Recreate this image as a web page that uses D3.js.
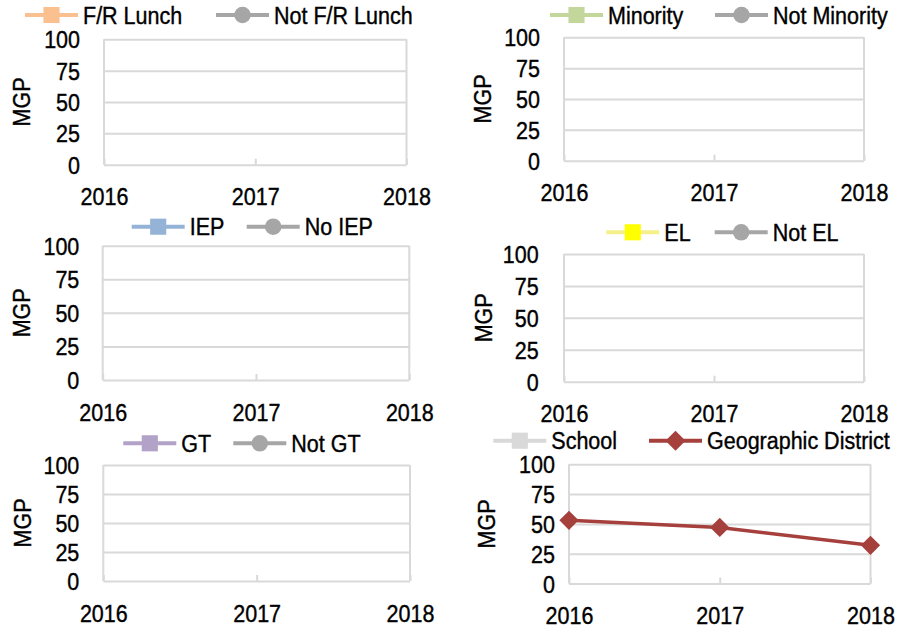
<!DOCTYPE html>
<html>
<head>
<meta charset="utf-8">
<script src="https://cdn.jsdelivr.net/npm/d3@7"></script>
<style>
  body { margin: 0; background: #fff; }
  svg text { font-family: "Liberation Sans", Arial, sans-serif; font-size: 21.5px; fill: #000; stroke: #000; stroke-width: 0.35px; }
</style>
</head>
<body>
<svg id="chart" width="908" height="632"></svg>
<script>
// categories and ticks
const years = ["2016", "2017", "2018"];
const yTicks = [0, 25, 50, 75, 100];

// series values (null = no data shown)
const frLunch = [null, null, null];
const notFrLunch = [null, null, null];
const minority = [null, null, null];
const notMinority = [null, null, null];
const iep = [null, null, null];
const noIep = [null, null, null];
const el = [null, null, null];
const notEl = [null, null, null];
const gt = [null, null, null];
const notGt = [null, null, null];
const school = [null, null, null];
const geoDistrict = [53, 47, 32];

// each panel: its two series
const panelSeries = [
  [{ name: "F/R Lunch", values: frLunch, color: "#FAC090", symbol: "square" },
   { name: "Not F/R Lunch", values: notFrLunch, color: "#A6A6A6", symbol: "circle" }],
  [{ name: "Minority", values: minority, color: "#C3D69B", symbol: "square" },
   { name: "Not Minority", values: notMinority, color: "#A6A6A6", symbol: "circle" }],
  [{ name: "IEP", values: iep, color: "#95B3D7", symbol: "square" },
   { name: "No IEP", values: noIep, color: "#A6A6A6", symbol: "circle" }],
  [{ name: "EL", values: el, color: "#FFFF00", line: "#F6F08A", symbol: "square" },
   { name: "Not EL", values: notEl, color: "#A6A6A6", symbol: "circle" }],
  [{ name: "GT", values: gt, color: "#B3A2C7", symbol: "square" },
   { name: "Not GT", values: notGt, color: "#A6A6A6", symbol: "circle" }],
  [{ name: "School", values: school, color: "#D9D9D9", symbol: "square" },
   { name: "Geographic District", values: geoDistrict, color: "#A5403D", symbol: "diamond" }]
];

// layout of the six panels (plot box, tick label edge, legend row)
const layout = [
  { left: 104, right: 406.5, top: 39.3, bottom: 164.7, tickRight: 80, mgpX: 21.5, legendY: 15, legendX: [25, 216] },
  { left: 564, right: 864, top: 37.3, bottom: 160.7, tickRight: 540, mgpX: 482, legendY: 15, legendX: [550, 715] },
  { left: 102.7, right: 409.3, top: 245.7, bottom: 380, tickRight: 79.3, mgpX: 21.5, legendY: 226.7, legendX: [131.7, 246.7] },
  { left: 564, right: 864, top: 254, bottom: 381.7, tickRight: 538.7, mgpX: 483, legendY: 232.3, legendX: [606.3, 714.7] },
  { left: 103.3, right: 410, top: 465, bottom: 581, tickRight: 79.3, mgpX: 22, legendY: 443.3, legendX: [123.3, 233.3] },
  { left: 569, right: 870.5, top: 464.3, bottom: 583.5, tickRight: 555, mgpX: 486.5, legendY: 440.7, legendX: [493.3, 649] }
];

const SY = 1.13;          // tall glyph look of the original
const gridColor = "#D9D9D9";
const svg = d3.select("#chart");

function symbolPath(kind, big) {
  if (kind === "circle") return d3.symbol(d3.symbolCircle, 215)();
  if (kind === "diamond") return d3.symbol(d3.symbolSquare, big ? 200 : 185)();
  return d3.symbol(d3.symbolSquare, 260)();
}

function drawMarker(g, kind, color, x, y, big) {
  g.append("path")
    .attr("d", symbolPath(kind, big))
    .attr("fill", color)
    .attr("transform", `translate(${x},${y})` + (kind === "diamond" ? " rotate(45)" : ""));
}

function label(g, x, y, txt, anchor, rot) {
  g.append("g")
    .attr("transform", `translate(${x},${y}) rotate(${rot || 0}) scale(1,${SY})`)
    .append("text")
    .attr("text-anchor", anchor)
    .attr("dy", "0.35em")
    .text(txt);
}

layout.forEach((L, i) => {
  const series = panelSeries[i];
  const panel = svg.append("g").attr("class", "panel");

  const x = d3.scalePoint().domain(years).range([L.left, L.right]);
  const y = d3.scaleLinear().domain([0, 100]).range([L.bottom, L.top]);

  // gridlines
  const grid = panel.append("g")
    .attr("transform", `translate(${L.left},0)`)
    .call(d3.axisLeft(y).tickValues(yTicks).tickSize(-(L.right - L.left)).tickFormat(""));
  grid.select(".domain").remove();
  grid.selectAll("line").attr("stroke", gridColor).attr("stroke-width", 2);

  // left / right border
  [L.left, L.right].forEach(bx => {
    panel.append("line")
      .attr("x1", bx).attr("x2", bx).attr("y1", L.top).attr("y2", L.bottom)
      .attr("stroke", gridColor).attr("stroke-width", 2);
  });

  // small inner ticks on category axis
  const xt = panel.append("g")
    .attr("transform", `translate(0,${L.bottom})`)
    .call(d3.axisBottom(x).tickSize(-6).tickFormat(""));
  xt.select(".domain").remove();
  xt.selectAll("line").attr("stroke", gridColor).attr("stroke-width", 2);

  // y tick labels
  const ya = panel.append("g")
    .attr("transform", `translate(${L.left},0)`)
    .call(d3.axisLeft(y).tickValues(yTicks).tickSize(0).tickPadding(L.left - L.tickRight));
  ya.select(".domain").remove();
  ya.selectAll("text").attr("dy", "0.35em").attr("transform", `scale(1,${SY})`);
  ya.attr("font-size", null).attr("font-family", null);

  // x tick labels
  const xa = panel.append("g")
    .attr("transform", `translate(0,${L.bottom + 32})`)
    .call(d3.axisBottom(x).tickSize(0).tickPadding(0));
  xa.select(".domain").remove();
  xa.selectAll("text").attr("y", 0).attr("dy", "0.35em").attr("transform", `scale(1,${SY})`);
  xa.attr("font-size", null).attr("font-family", null);

  // axis title
  label(panel, L.mgpX, (L.top + L.bottom) / 2, "MGP", "middle", -90);

  // series
  const line = d3.line()
    .defined(d => d.v != null)
    .x(d => x(d.year))
    .y(d => y(d.v));

  series.forEach(s => {
    const pts = years.map((yr, k) => ({ year: yr, v: s.values[k] }));
    panel.append("path")
      .datum(pts)
      .attr("fill", "none")
      .attr("stroke", s.line || s.color)
      .attr("stroke-width", 3.5)
      .attr("d", line);
    pts.filter(p => p.v != null).forEach(p => drawMarker(panel, s.symbol, s.color, x(p.year), y(p.v), false));
  });

  // legend
  series.forEach((s, k) => {
    const lx = L.legendX[k];
    panel.append("line")
      .attr("x1", lx).attr("x2", lx + 53)
      .attr("y1", L.legendY).attr("y2", L.legendY)
      .attr("stroke", s.line || s.color).attr("stroke-width", 4);
    drawMarker(panel, s.symbol, s.color, lx + 26.5, L.legendY, true);
    label(panel, lx + 58, L.legendY, s.name, "start");
  });
});
</script>
</body>
</html>
